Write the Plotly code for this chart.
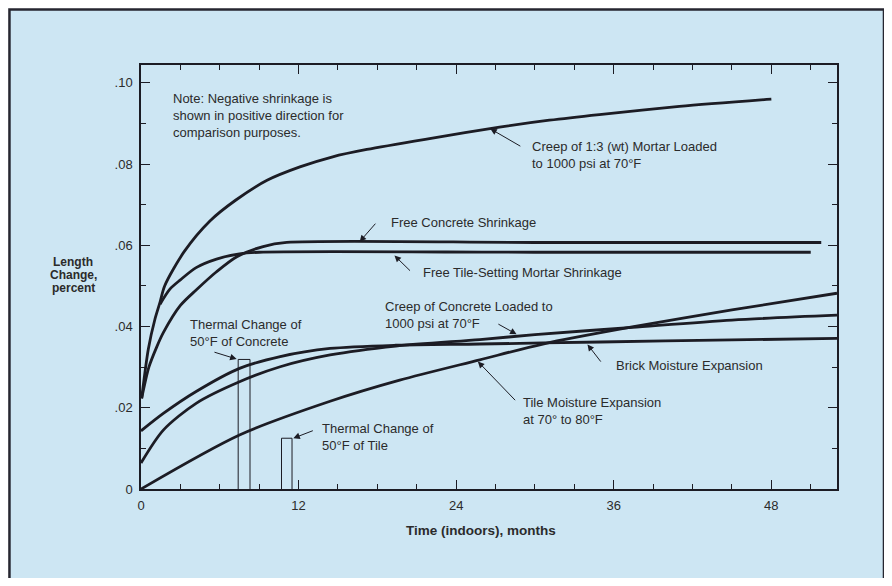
import plotly.graph_objects as go

# ---------------- data ----------------
mortar_creep_x = [0.05, 0.56, 1.06, 1.45, 1.8, 3.3, 5.25, 7.2, 9.6, 12.1, 14.6, 17.2, 22.2, 27.3, 31.1, 34.9, 41.0, 48.0]
mortar_creep_y = [0.0223, 0.0345, 0.0418, 0.0460, 0.0500, 0.0585, 0.0660, 0.0711, 0.0760, 0.0793, 0.0818, 0.0836, 0.0864, 0.0891, 0.0908, 0.0922, 0.0942, 0.0960]

concrete_shrink_x = [0.05, 0.6, 1.2, 1.7, 3.0, 4.2, 5.75, 7.3, 9.3, 11.1, 30.0, 51.8]
concrete_shrink_y = [0.0223, 0.0300, 0.0350, 0.0385, 0.0452, 0.0490, 0.0535, 0.0572, 0.0597, 0.0607, 0.0607, 0.0607]

tile_mortar_shrink_x = [1.45, 2.2, 3.0, 4.2, 5.75, 7.5, 9.0, 30.0, 51.0]
tile_mortar_shrink_y = [0.0455, 0.0492, 0.0515, 0.0545, 0.0566, 0.0579, 0.0583, 0.0583, 0.0583]

brick_x = [0, 1.7, 4.2, 7.5, 10.6, 14.4, 19.4, 25.8, 35.0, 45.0, 53.0]
brick_y = [0.0143, 0.0186, 0.0240, 0.0297, 0.0326, 0.0346, 0.0354, 0.0357, 0.0362, 0.0367, 0.0371]

concrete_creep_x = [0, 1.7, 4.2, 7.5, 10.6, 14.4, 19.4, 25.8, 30.0, 37.4, 45.0, 53.0]
concrete_creep_y = [0.0064, 0.0145, 0.0211, 0.0264, 0.0301, 0.0330, 0.0352, 0.0368, 0.0380, 0.0398, 0.0416, 0.0428]

tile_moist_x = [0, 7.5, 14.4, 19.7, 25.8, 30.6, 37.4, 45.0, 53.0]
tile_moist_y = [0, 0.0133, 0.0216, 0.0268, 0.0318, 0.0357, 0.0399, 0.0441, 0.0482]

thermal_concrete_x = [7.4, 7.4, 8.3, 8.3]
thermal_concrete_y = [0, 0.0319, 0.0319, 0]
thermal_tile_x = [10.7, 10.7, 11.5, 11.5]
thermal_tile_y = [0, 0.0125, 0.0125, 0]

x_tick_vals = [0, 12, 24, 36, 48]
x_tick_text = ["0", "12", "24", "36", "48"]
y_tick_vals = [0, 0.02, 0.04, 0.06, 0.08, 0.10]
y_tick_text = ["0", ".02", ".04", ".06", ".08", ".10"]

# ---------------- style ----------------
INK = "#1c1c24"
TXT = "#2b2b2b"
BG = "#cde6f3"
FONT = "Liberation Sans, Arial, sans-serif"

fig = go.Figure()

for xs, ys in [(mortar_creep_x, mortar_creep_y), (concrete_shrink_x, concrete_shrink_y),
               (tile_mortar_shrink_x, tile_mortar_shrink_y), (brick_x, brick_y),
               (concrete_creep_x, concrete_creep_y), (tile_moist_x, tile_moist_y)]:
    fig.add_trace(go.Scatter(x=xs, y=ys, mode="lines",
                             line=dict(color=INK, width=2.8, shape="spline", smoothing=0.8),
                             hoverinfo="skip", showlegend=False))

for xs, ys in [(thermal_concrete_x, thermal_concrete_y), (thermal_tile_x, thermal_tile_y)]:
    fig.add_trace(go.Scatter(x=xs, y=ys, mode="lines", line=dict(color=INK, width=1),
                             hoverinfo="skip", showlegend=False))

# text labels
labels = [
    (2.26, 0.0919, "Note: Negative shrinkage is<br>shown in positive direction for<br>comparison purposes."),
    (29.6, 0.0822, "Creep of 1:3 (wt) Mortar Loaded<br>to 1000 psi at 70°F"),
    (18.9, 0.0655, "Free Concrete Shrinkage"),
    (21.35, 0.0533, "Free Tile-Setting Mortar Shrinkage"),
    (18.4, 0.0429, "Creep of Concrete Loaded to<br>1000 psi at 70°F"),
    (36.0, 0.0305, "Brick Moisture Expansion"),
    (28.95, 0.0191, "Tile Moisture Expansion<br>at 70° to 80°F"),
    (3.6, 0.0383, "Thermal Change of<br>50°F of Concrete"),
    (13.6, 0.0127, "Thermal Change of<br>50°F of Tile"),
]
for x, y, t in labels:
    fig.add_annotation(x=x, y=y, text=t, showarrow=False, xanchor="left", yanchor="middle",
                       align="left", font=dict(family=FONT, size=13, color=TXT))

# leader arrows: (tip x, tip y, tail x, tail y)
leaders = [
    (26.6, 0.0887, 29.0, 0.0842),
    (16.65, 0.0609, 17.95, 0.0657),
    (19.3, 0.0575, 20.6, 0.0534),
    (28.6, 0.0381, 27.1, 0.0408),
    (34.0, 0.0356, 35.1, 0.0310),
    (25.65, 0.0314, 28.6, 0.0215),
    (7.28, 0.0320, 5.48, 0.0338),
    (11.6, 0.0125, 13.2, 0.0145),
]
for tx, ty, ax, ay in leaders:
    fig.add_annotation(x=tx, y=ty, ax=ax, ay=ay, xref="x", yref="y", axref="x", ayref="y",
                       text="", showarrow=True, arrowhead=2, arrowsize=1.3, arrowwidth=1,
                       arrowcolor=INK)

# axis titles
for yp, t in [(0.5354, "Length"), (0.5047, "Change,"), (0.4741, "percent")]:
    fig.add_annotation(xref="paper", yref="paper", x=-0.0977, y=yp, text="<b>%s</b>" % t,
                       showarrow=False, xanchor="center", yanchor="middle",
                       font=dict(family=FONT, size=12, color=TXT))
fig.add_annotation(xref="paper", yref="paper", x=0.488, y=-0.099,
                   text="<b>Time (indoors), months</b>", showarrow=False,
                   xanchor="center", yanchor="middle", font=dict(family=FONT, size=13.5, color=TXT))

# outer panel frame
fig.add_shape(type="rect", xref="paper", yref="paper", x0=-0.189, x1=1.0675, y0=-0.215, y1=1.1309,
              line=dict(color="#262630", width=2.5), fillcolor=BG, layer="below")

axis_common = dict(showline=True, linecolor=INK, linewidth=1.5, mirror="ticks",
                   ticks="inside", tickcolor=INK, tickwidth=1.2, showgrid=False, zeroline=False,
                   tickfont=dict(family=FONT, size=13, color=TXT))

fig.update_xaxes(range=[0, 53], tickvals=x_tick_vals, ticktext=x_tick_text, ticklen=9,
                 minor=dict(dtick=3, tick0=0, ticks="inside", ticklen=5, tickcolor=INK, tickwidth=1.2),
                 ticklabelstandoff=4, **axis_common)
fig.update_yaxes(range=[0, 0.1044], tickvals=y_tick_vals, ticktext=y_tick_text, ticklen=9,
                 minor=dict(dtick=0.01, tick0=0, ticks="inside", ticklen=5, tickcolor=INK, tickwidth=1.2),
                 ticklabelstandoff=4, **axis_common)

fig.update_layout(width=884, height=570, margin=dict(l=133, r=55, t=57, b=89),
                  paper_bgcolor="white", plot_bgcolor="rgba(0,0,0,0)", showlegend=False,
                  font=dict(family=FONT, color=TXT))

fig.write_html("out.html")
